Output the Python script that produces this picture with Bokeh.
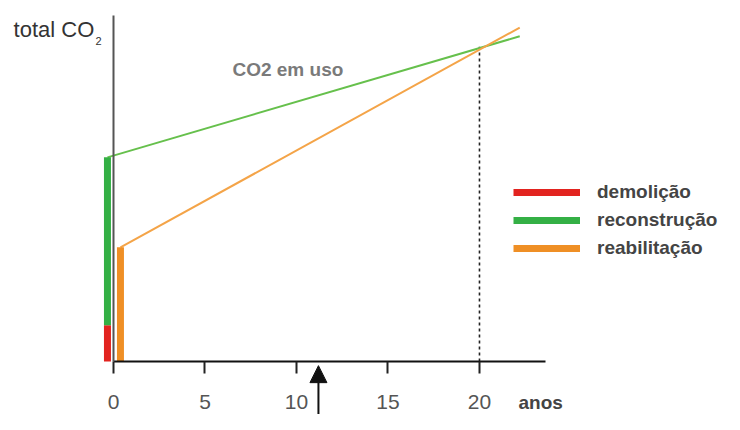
from bokeh.plotting import figure
from bokeh.models import (LinearAxis, FixedTicker, Range1d, Label, Legend, LegendItem,
                          Arrow, NormalHead)
from bokeh.embed import file_html
from bokeh.resources import INLINE

# ---- data (years, relative total CO2 0..100) ----
x_ticks = [0, 5, 10, 15, 20]
left_bar_year = -0.33
right_bar_year = 0.38
demolicao = [0, 10.5]          # bottom, top
reconstrucao = [10.5, 59]      # bottom, top
reabilitacao = [0, 33]         # bottom, top
green_years = [-0.33, 22.2]
green_co2 = [59, 94]
orange_years = [0.38, 22.2]
orange_co2 = [33, 96.5]
breakeven_year = 20
breakeven_co2 = 91
arrow_year = 11.2

RED = "#e2231f"
GREEN = "#34b045"
ORANGE = "#ef8f25"
GREEN_LINE = "#66c04c"
ORANGE_LINE = "#f4a448"
FONT = "Liberation Sans"

p = figure(width=724, height=414, output_backend="svg", toolbar_location=None,
           x_axis_location=None, y_axis_location=None, min_border=0,
           x_range=Range1d(-6.175, 33.39), y_range=Range1d(-15.32, 104.34))
p.outline_line_color = None
p.xgrid.visible = False
p.ygrid.visible = False
p.background_fill_color = "white"

# axes
xaxis = LinearAxis(fixed_location=0, bounds=(0, 23.6), ticker=FixedTicker(ticks=x_ticks))
xaxis.axis_line_width = 2
xaxis.axis_line_color = "#111111"
xaxis.major_tick_line_width = 2
xaxis.major_tick_line_color = "#222222"
xaxis.major_tick_out = 12
xaxis.major_tick_in = 0
xaxis.minor_tick_line_color = None
xaxis.major_label_text_font = FONT
xaxis.major_label_text_font_size = "21px"
xaxis.major_label_text_color = "#555555"
xaxis.major_label_standoff = 22
p.add_layout(xaxis, "below")

yaxis = LinearAxis(fixed_location=0, bounds=(0, 100), ticker=FixedTicker(ticks=[]))
yaxis.axis_line_width = 2
yaxis.axis_line_color = "#555555"
yaxis.major_tick_line_color = None
yaxis.minor_tick_line_color = None
yaxis.major_label_text_font_size = "0px"
p.add_layout(yaxis, "left")

# dotted break-even line
p.segment(x0=[breakeven_year], y0=[0], x1=[breakeven_year], y1=[breakeven_co2],
          line_color="#222222", line_width=1.6, line_dash="3 3")

# operational CO2 lines
p.line(green_years, green_co2, line_color=GREEN_LINE, line_width=2)
p.line(orange_years, orange_co2, line_color=ORANGE_LINE, line_width=2)

# embodied CO2 bars
r_dem = p.segment(x0=[left_bar_year], y0=[demolicao[0]], x1=[left_bar_year], y1=[demolicao[1]],
                  line_color=RED, line_width=7)
r_rec = p.segment(x0=[left_bar_year], y0=[reconstrucao[0]], x1=[left_bar_year], y1=[reconstrucao[1]],
                  line_color=GREEN, line_width=7)
r_rea = p.segment(x0=[right_bar_year], y0=[reabilitacao[0]], x1=[right_bar_year], y1=[reabilitacao[1]],
                  line_color=ORANGE, line_width=7)

# arrow below axis
p.add_layout(Arrow(end=NormalHead(size=17, fill_color="#111111", line_color="#111111"),
                   x_start=arrow_year, y_start=-18, x_end=arrow_year, y_end=-1.2,
                   line_color="#111111", line_width=2))

# texts
p.add_layout(Label(x=-5.46, y=95.95, text="total CO", text_font=FONT, text_font_size="22px",
                   text_color="#333333", text_baseline="middle"))
p.add_layout(Label(x=-0.98, y=92.6, text="2", text_font=FONT, text_font_size="11px",
                   text_color="#333333", text_baseline="middle"))
p.add_layout(Label(x=6.50, y=84.4, text="CO2 em uso", text_font=FONT, text_font_size="19px",
                   text_font_style="bold", text_color="#7a7a7a", text_baseline="middle"))
p.add_layout(Label(x=22.13, y=-11.85, text="anos", text_font=FONT, text_font_size="19px",
                   text_font_style="bold", text_color="#444444", text_baseline="middle"))

legend = Legend(items=[LegendItem(label="demolição", renderers=[r_dem]),
                       LegendItem(label="reconstrução", renderers=[r_rec]),
                       LegendItem(label="reabilitação", renderers=[r_rea])],
                location=(513, 154))
legend.glyph_width = 67
legend.glyph_height = 24
legend.label_height = 24
legend.spacing = 4
legend.padding = 0
legend.margin = 0
legend.label_standoff = 17
legend.border_line_color = None
legend.background_fill_alpha = 0
legend.label_text_font = FONT
legend.label_text_font_size = "19px"
legend.label_text_font_style = "bold"
legend.label_text_color = "#444444"
p.add_layout(legend, "center")

open("out.html", "w").write(file_html(p, INLINE))
